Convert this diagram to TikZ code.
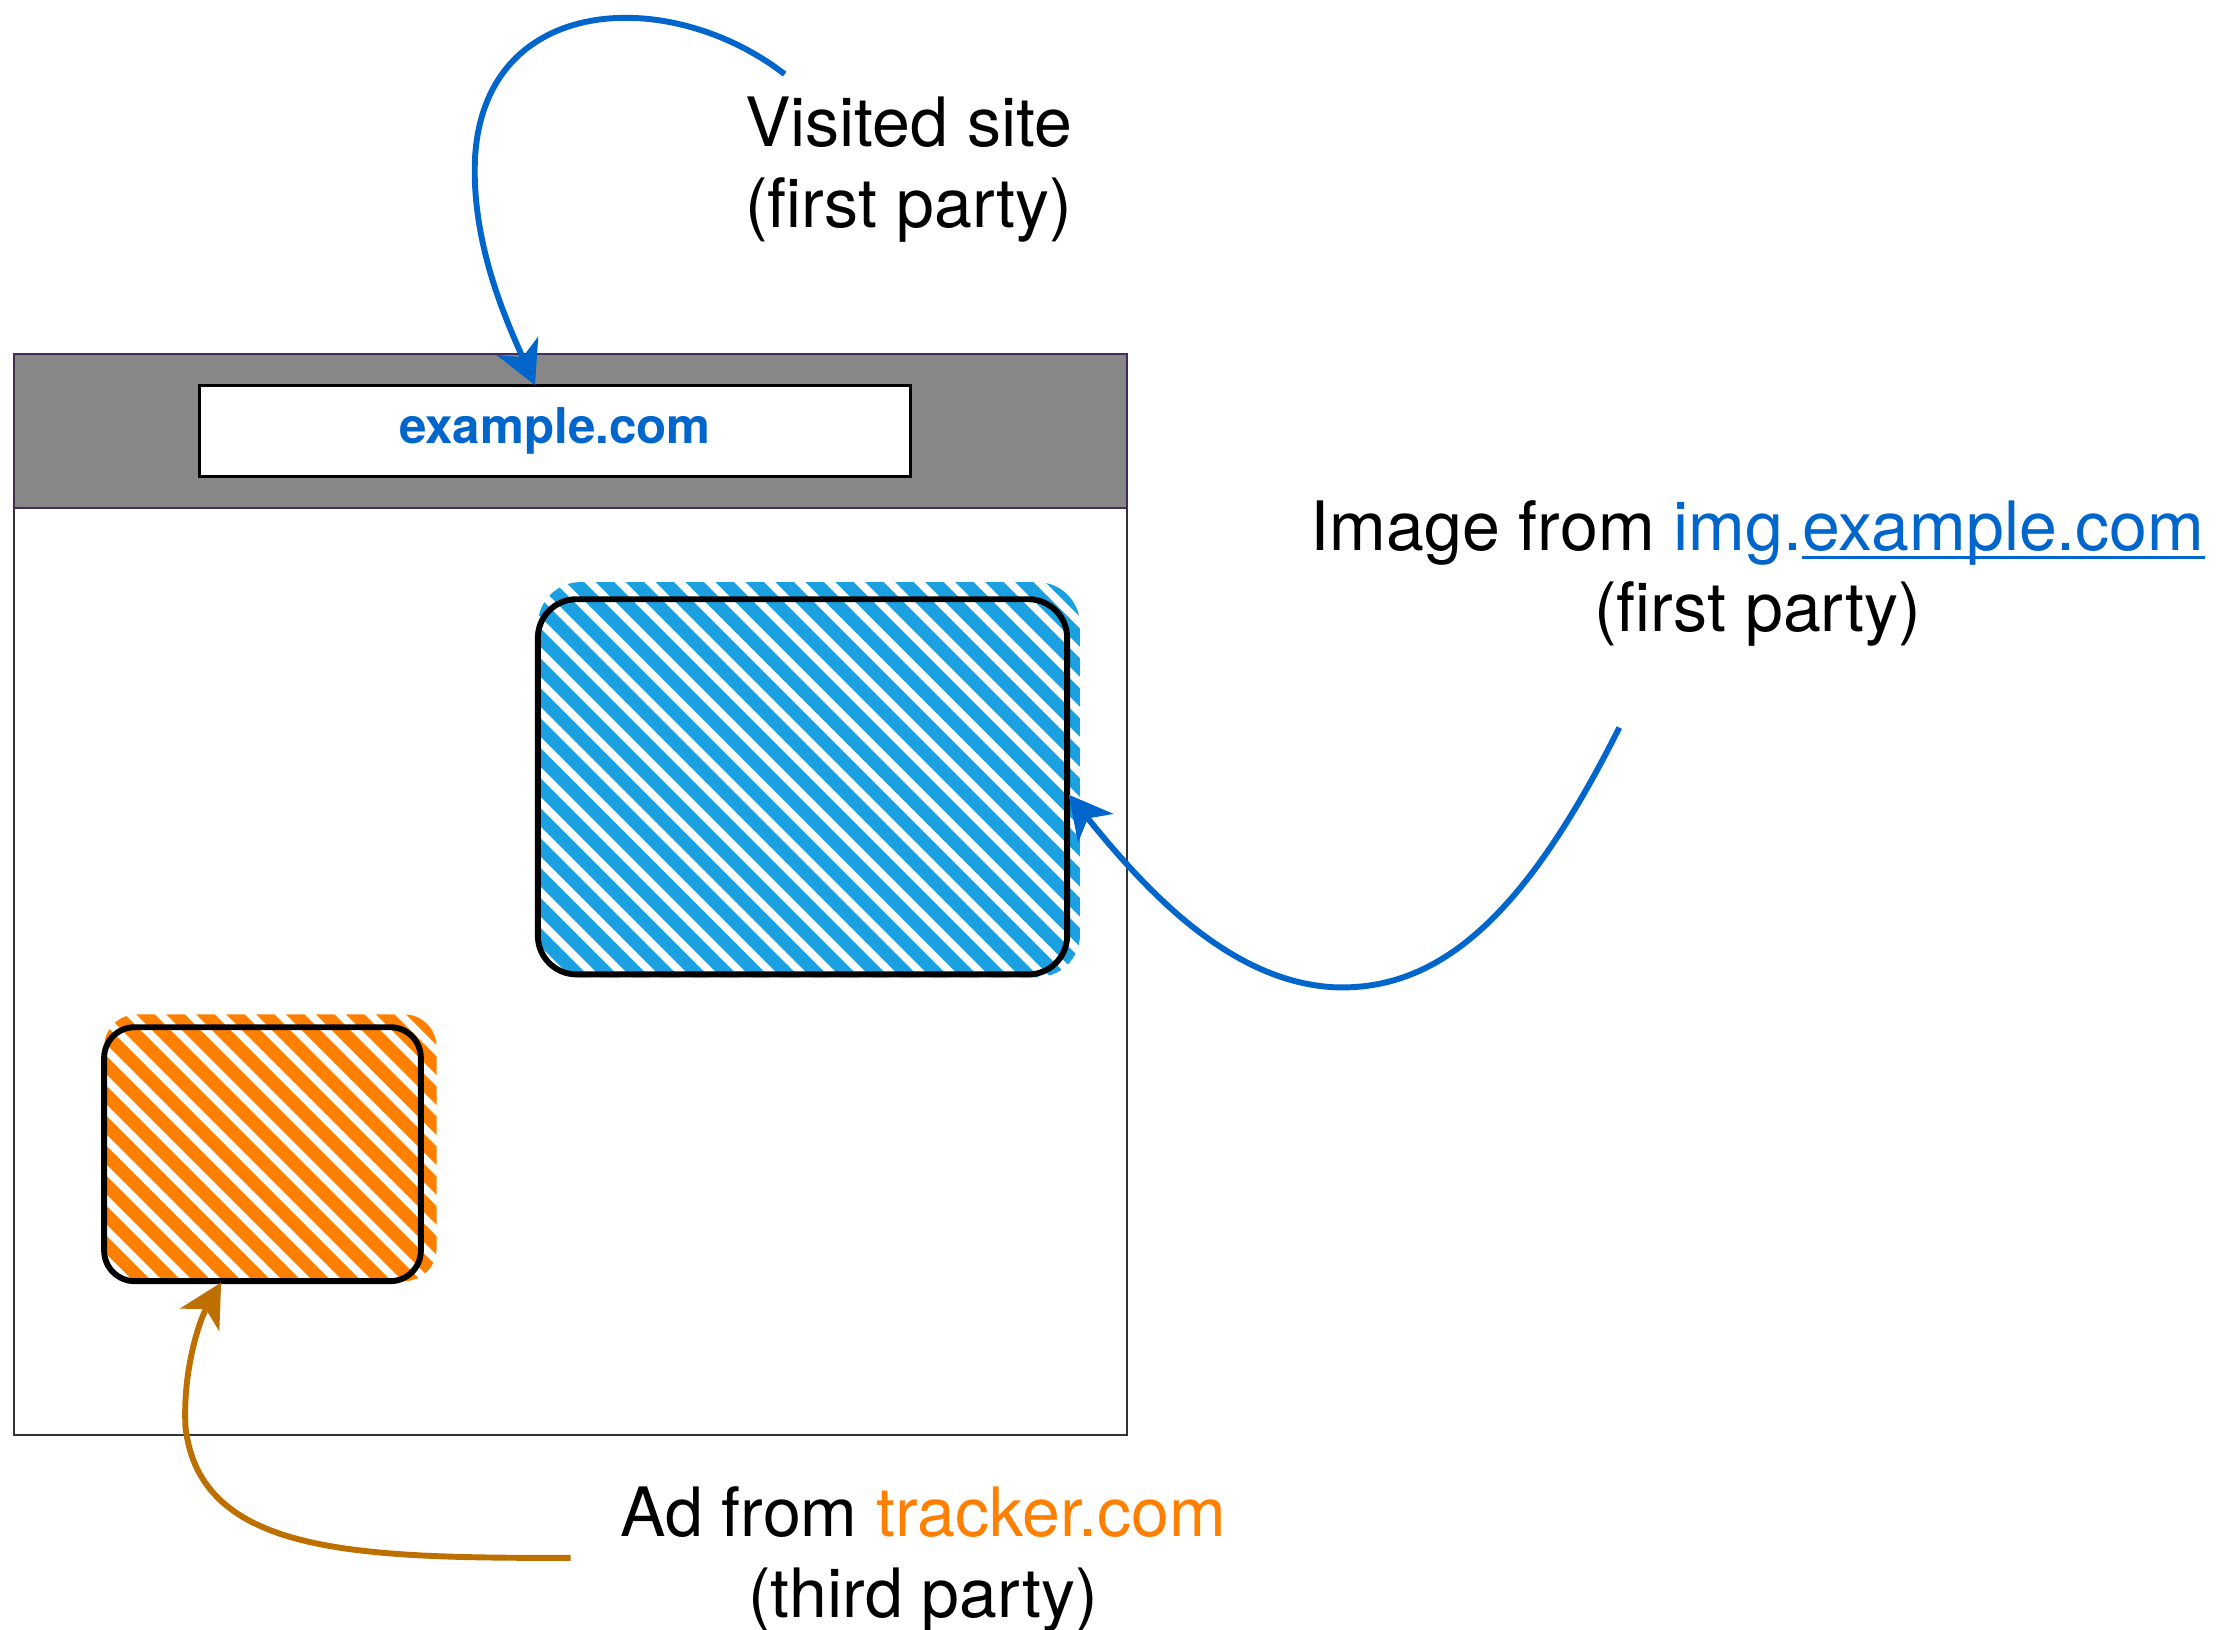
\documentclass[tikz,border=0pt]{standalone}
\usepackage{fontspec}
\setmainfont{TeX Gyre Heros}
\usetikzlibrary{arrows.meta}

\definecolor{linkblue}{HTML}{0066CC}
\definecolor{hatchblue}{HTML}{1BA1E2}
\definecolor{hatchorange}{HTML}{FF8000}
\definecolor{adbrown}{HTML}{BD7000}
\definecolor{barfill}{HTML}{878787}
\definecolor{barline}{HTML}{432D57}
\definecolor{framegray}{HTML}{333333}

% underlined link text with the rule just below the baseline
\newsavebox\linkbox
\newcommand\linkul[1]{\sbox\linkbox{#1}\rlap{\rule[-4.5pt]{\wd\linkbox}{1.6pt}}\usebox\linkbox}

\begin{document}
\begin{tikzpicture}[x=0.7pt,y=-0.7pt,
  label/.style={align=center,inner sep=0pt,text=black,
    font=\fontsize{33.4pt}{40pt}\selectfont},
  sketchbox/.style={draw=black,line width=2.9pt,rounded corners=19pt},
  hatchline/.style={line width=6.4pt,line cap=round},
  link/.style={line width=2.9pt,-{Stealth[length=21pt,width=22pt,inset=6pt]}},
]
\useasboundingbox (0,0) rectangle (1568,1142);

% browser window with its grey title bar and address field
\node[draw=framegray,line width=0.9pt,fill=white,minimum width=546pt,
  minimum height=530.6pt,inner sep=0pt] (window) at (400,627) {};
\node[draw=barline,line width=0.9pt,fill=barfill,minimum width=546pt,
  minimum height=75.6pt,inner sep=0pt] (bar) at (400,302) {};
\node[draw=black,line width=1.4pt,fill=white,minimum width=348.6pt,
  minimum height=44.8pt,inner sep=0pt,text=linkblue,
  font=\fontsize{24.2pt}{29pt}\selectfont\bfseries] (addr) at (389,302) {example.com};

% hatched image area (first party)
\begin{scope}
  \clip[rounded corners=21pt] (377,408) rectangle (757,685);
  \foreach \c in {-320,-299,...,340}
    \draw[hatchline,hatchblue] (\c+400,400) -- (\c+700,700);
\end{scope}
\node[sketchbox,minimum width=259.7pt,minimum height=184.1pt,inner sep=0pt]
  (imgbox) at (562.5,551.5) {};

% hatched ad area (third party)
\begin{scope}
  \clip[rounded corners=16pt] (73,711) rectangle (306,898);
  \foreach \c in {-840,-819,...,-400}
    \draw[hatchline,hatchorange] (\c+700,700) -- (\c+910,910);
\end{scope}
\node[sketchbox,rounded corners=15pt,minimum width=155.4pt,minimum height=124.6pt,
  inner sep=0pt] (adbox) at (184,809) {};

% labels
\node[label] (visited) at (637,119) {Visited site\\(first party)};
\node[label] (imglabel) at (1232,402)
  {Image from {\color{linkblue}img.\linkul{example.com}}\\(first party)};
\node[label] (adlabel) at (647,1093)
  {Ad from {\color{hatchorange}tracker.com}\\(third party)};

% arrow ends
\coordinate (s1) at (550,52);
\coordinate (t1) at (375,270);
\coordinate (s2) at (1135,510);
\coordinate (t2) at (749,557);
\coordinate (s3) at (400,1092);
\coordinate (t3) at (155,899);

% connectors
\draw[link,linkblue] (s1) .. controls (470,-10) and (340,-5) .. (333,110)
  .. controls (330,170) and (355,225) .. (t1);
\draw[link,linkblue] (s2) .. controls (1070,640) and (1010,695) .. (935,692)
  .. controls (860,688) and (800,620) .. (t2);
\draw[link,adbrown] (s3) .. controls (250,1092) and (140,1090) .. (130,1000)
  .. controls (128,960) and (140,925) .. (t3);
\end{tikzpicture}
\end{document}
